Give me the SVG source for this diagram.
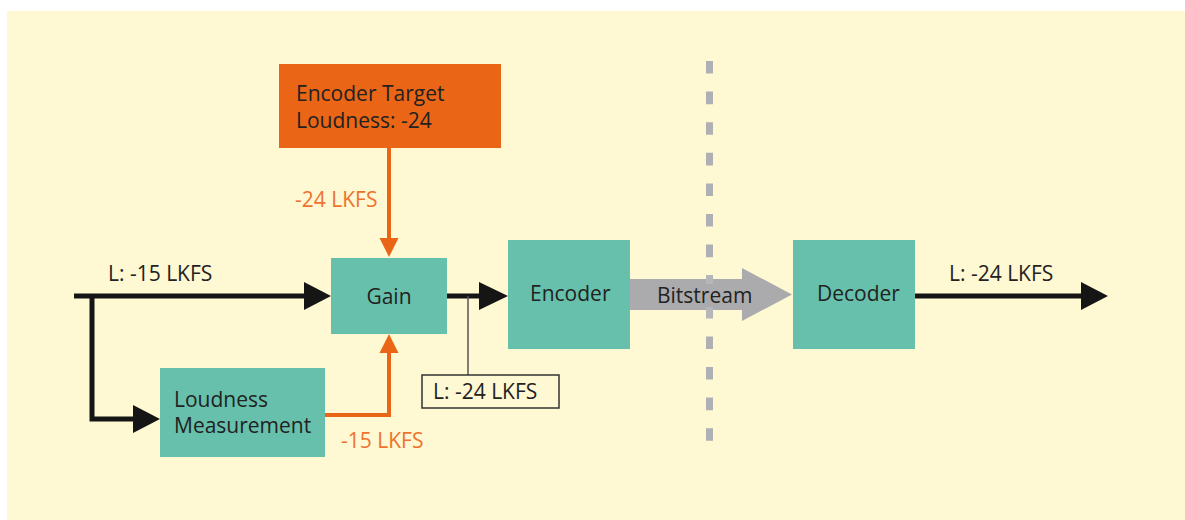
<svg xmlns="http://www.w3.org/2000/svg" width="1185" height="520" viewBox="0 0 1185 520">
<style>
.bg{fill:#FEF8D3}
.teal{fill:#66C0AB}
.orange{fill:#EA6516}
.t{font-family:"Open Sans","Noto Sans","Liberation Sans",sans-serif;font-size:21px;fill:#222222}
.to{font-family:"Open Sans","Noto Sans","Liberation Sans",sans-serif;font-size:21px;fill:#EE7330}
.blk{stroke:#151515;stroke-width:5;fill:none}
.blkh{fill:#151515}
.org{stroke:#EA6516;stroke-width:4;fill:none}
.orgh{fill:#EA6516}
</style>
<rect class="bg" x="7" y="11" width="1178" height="509"/>

<g id="separator">
<line x1="709.5" y1="61" x2="709.5" y2="441" stroke="#AEB0B3" stroke-width="7" stroke-dasharray="12.6 18"/>
</g>

<g id="connectors">
<line class="blk" x1="74" y1="296" x2="306" y2="296"/>
<polygon class="blkh" points="304,282 331,296 304,310"/>
<path class="blk" d="M92,296 V419 H135"/>
<polygon class="blkh" points="133,405 160,419 133,433"/>
<line class="blk" x1="447" y1="296" x2="481" y2="296"/>
<polygon class="blkh" points="479,282 508,296 479,310"/>
<line class="blk" x1="915" y1="296" x2="1083" y2="296"/>
<polygon class="blkh" points="1081,282 1108,296 1081,310"/>
<line class="org" x1="389" y1="148" x2="389" y2="240"/>
<polygon class="orgh" points="379.5,238 398.5,238 389,257"/>
<path class="org" d="M325,415 H389 V351"/>
<polygon class="orgh" points="379.5,353 398.5,353 389,334"/>
<line x1="468" y1="296" x2="468" y2="375" stroke="#555555" stroke-width="1.5"/>
<text class="to" x="295" y="207">-24 LKFS</text>
<text class="to" x="341" y="448">-15 LKFS</text>
<text class="t" x="108" y="281">L: -15 LKFS</text>
<text class="t" x="949" y="281">L: -24 LKFS</text>
</g>

<g id="level-label">
<rect x="422" y="375" width="137" height="33" fill="none" stroke="#333333" stroke-width="1.5"/>
<text class="t" x="433" y="399">L: -24 LKFS</text>
</g>

<g id="target">
<rect class="orange" x="279" y="64" width="222" height="84"/>
<text class="t" x="296" y="101">Encoder Target</text>
<text class="t" x="296" y="128">Loudness: -24</text>
</g>

<g id="gain">
<rect class="teal" x="331" y="258" width="116" height="76"/>
<text class="t" x="389" y="304" text-anchor="middle">Gain</text>
</g>

<g id="loudness">
<rect class="teal" x="160" y="368" width="165" height="89"/>
<text class="t" x="174" y="407">Loudness</text>
<text class="t" x="174" y="433">Measurement</text>
</g>

<g id="encoder">
<rect class="teal" x="508" y="240" width="122" height="109"/>
<text class="t" x="530" y="301">Encoder</text>
</g>

<g id="bitstream">
<polygon fill="#ABABAD" points="630,279 742,279 742,268 792,294.5 742,321 742,310 630,310"/>
<line x1="709.5" y1="275" x2="709.5" y2="284" stroke="#B4B6B9" stroke-width="7"/>
<line x1="709.5" y1="307" x2="709.5" y2="318" stroke="#B4B6B9" stroke-width="7"/>
<text class="t" x="657" y="303" fill="#2a2a2a">Bitstream</text>
</g>

<g id="decoder">
<rect class="teal" x="793" y="240" width="122" height="109"/>
<text class="t" x="817" y="301">Decoder</text>
</g>
</svg>
